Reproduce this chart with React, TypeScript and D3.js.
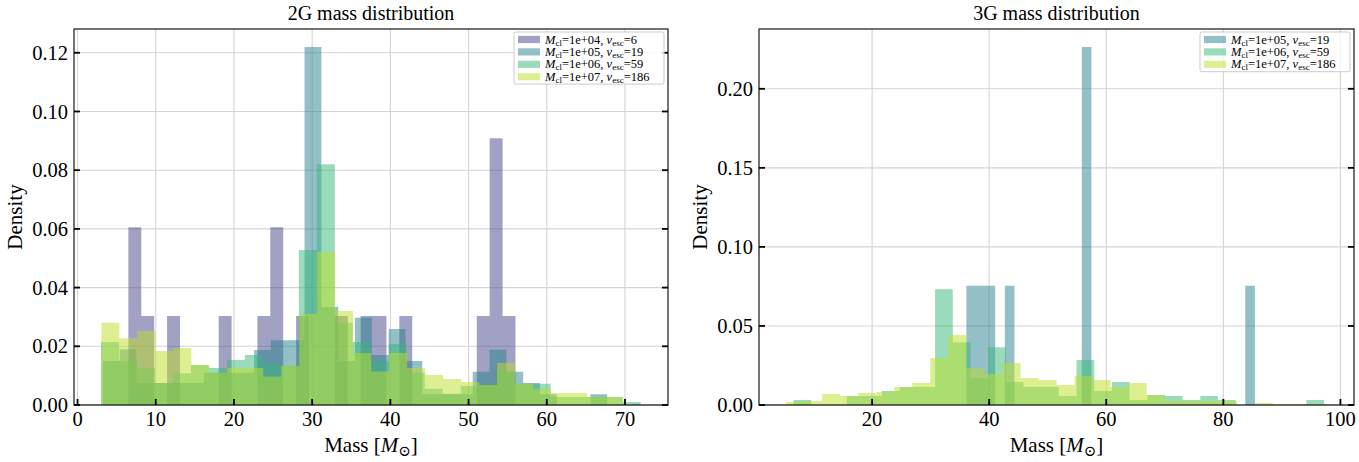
import { useEffect, useRef } from 'react';
import * as d3 from 'd3';

// cluster labels and colours (shared by both panels)
const clusterMass = ['1e+04', '1e+05', '1e+06', '1e+07'];
const vEsc = [6, 19, 59, 186];
const seriesColors = ['#414487', '#277f8e', '#35b779', '#bddf26'];

// 2G panel: first bin edge, bin width, density per bin
const g2Start = [6.5, 3.23, 3.0, 3.05];
const g2Width = [1.65, 2.15, 2.3, 2.3];
const g2Density1e4 = [
  0.0606, 0.0303, 0, 0.0303, 0, 0, 0, 0.0303, 0, 0, 0.0303, 0.0606, 0, 0.0303, 0,
  0, 0.0303, 0, 0.0303, 0.0303, 0, 0.0303, 0, 0, 0, 0, 0, 0.0303, 0.0909, 0.0303,
];
const g2Density1e5 = [
  0.015, 0.019, 0.0075, 0.0075, 0.0075, 0.0075, 0.011, 0.011, 0.011, 0.0187, 0.0221,
  0.0221, 0.122, 0.0334, 0.015, 0.0297, 0.017, 0.0259, 0.015, 0.0037, 0.0037, 0.0037,
  0.0113, 0.0188, 0.0113, 0.0075, 0.0037, 0, 0, 0.0037,
];
const g2Density1e6 = [
  0.0215, 0.015, 0.0126, 0.0075, 0.0108, 0.0136, 0.0126, 0.0153, 0.017, 0.0142, 0.0134,
  0.0528, 0.082, 0.028, 0.0215, 0.0148, 0.0208, 0.011, 0.0055, 0.0038, 0.0065, 0.0068,
  0.0114, 0.0072, 0.0072, 0.0027, 0.0027, 0.0027, 0.0027, 0.001,
];
const g2Density1e7 = [
  0.028, 0.0227, 0.0252, 0.0184, 0.0194, 0.0136, 0.011, 0.0126, 0.0126, 0.0097, 0.0134,
  0.031, 0.0521, 0.032, 0.0177, 0.0114, 0.0177, 0.0126, 0.0102, 0.0089, 0.0078, 0.0068,
  0.0143, 0.0072, 0.0055, 0.0041, 0.0041, 0.0027, 0.0027, 0,
];

// 3G panel (no 1e+04 cluster)
const g3Start = [36.1, 6.6, 5.3];
const g3Width = [1.643, 3.02, 3.08];
const g3Density1e5 = [
  0.0755, 0.0755, 0.0755, 0, 0.0755, 0, 0, 0, 0, 0, 0, 0, 0.2265, 0, 0,
  0, 0, 0, 0, 0, 0, 0, 0, 0, 0, 0, 0, 0, 0, 0.0755,
];
const g3Density1e6 = [
  0.0032, 0, 0, 0.0057, 0.0057, 0.0088, 0.0114, 0.0114, 0.0732, 0.0397, 0.017, 0.0366,
  0.0145, 0.0114, 0.0114, 0.0057, 0.0284, 0.0088, 0.0145, 0.0032, 0.0063, 0.0057, 0.0032,
  0.0057, 0.0032, 0, 0, 0, 0, 0.0032,
];
const g3Density1e7 = [
  0.0019, 0.0025, 0.0069, 0.0057, 0.0076, 0.0082, 0.0114, 0.0139, 0.0297, 0.0442, 0.0233,
  0.0196, 0.0265, 0.017, 0.0158, 0.0126, 0.0183, 0.0158, 0.0114, 0.0139, 0.0063, 0.0025,
  0.0025, 0.0025, 0.0025, 0, 0.0013, 0.0006, 0.0006, 0.0006,
];

const g2XTicks = [0, 10, 20, 30, 40, 50, 60, 70];
const g2YTicks = [0, 0.02, 0.04, 0.06, 0.08, 0.1, 0.12];
const g3XTicks = [20, 40, 60, 80, 100];
const g3YTicks = [0, 0.05, 0.1, 0.15, 0.2];

interface Series {
  start: number;
  width: number;
  density: number[];
  color: string;
  mass: string;
  vesc: number;
}

interface PanelProps {
  left: number;
  right: number;
  title: string;
  series: Series[];
  xTicks: number[];
  yTicks: number[];
}

const FONT = '"Liberation Serif", "DejaVu Serif", serif';
const TOP = 29;
const BOTTOM = 405;

function HistPanel({ left, right, title, series, xTicks, yTicks }: PanelProps) {
  const ref = useRef<SVGGElement>(null);

  useEffect(() => {
    if (!ref.current) return;
    const g = d3.select(ref.current);
    g.selectAll('*').remove();

    const lo = d3.min(series, (s) => s.start) ?? 0;
    const hi = d3.max(series, (s) => s.start + s.width * s.density.length) ?? 1;
    const pad = (hi - lo) * 0.05;
    const x = d3.scaleLinear().domain([lo - pad, hi + pad]).range([left, right]);
    const yMax = (d3.max(series, (s) => d3.max(s.density) ?? 0) ?? 1) * 1.05;
    const y = d3.scaleLinear().domain([0, yMax]).range([BOTTOM, TOP]);

    // grid
    g.selectAll('line.vgrid')
      .data(xTicks)
      .join('line')
      .attr('x1', (d) => x(d))
      .attr('x2', (d) => x(d))
      .attr('y1', TOP)
      .attr('y2', BOTTOM)
      .attr('stroke', '#d4d4d4')
      .attr('stroke-width', 1.1);
    g.selectAll('line.hgrid')
      .data(yTicks)
      .join('line')
      .attr('x1', left)
      .attr('x2', right)
      .attr('y1', (d) => y(d))
      .attr('y2', (d) => y(d))
      .attr('stroke', '#d4d4d4')
      .attr('stroke-width', 1.1);

    // histogram bars, one path per series so adjacent bins don't seam
    series.forEach((s) => {
      const p = d3.path();
      s.density.forEach((d, i) => {
        if (d <= 0) return;
        const x0 = x(s.start + i * s.width);
        const x1 = x(s.start + (i + 1) * s.width);
        p.rect(x0, y(d), x1 - x0, y(0) - y(d));
      });
      g.append('path').attr('d', p.toString()).attr('fill', s.color).attr('fill-opacity', 0.5);
    });

    // spines
    g.append('rect')
      .attr('x', left)
      .attr('y', TOP)
      .attr('width', right - left)
      .attr('height', BOTTOM - TOP)
      .attr('fill', 'none')
      .attr('stroke', '#000')
      .attr('stroke-width', 1.1);

    // ticks (inward, left/right/bottom)
    yTicks.forEach((t) => {
      g.append('line').attr('x1', left).attr('x2', left + 6).attr('y1', y(t)).attr('y2', y(t))
        .attr('stroke', '#000').attr('stroke-width', 1.8);
      g.append('line').attr('x1', right - 6).attr('x2', right).attr('y1', y(t)).attr('y2', y(t))
        .attr('stroke', '#000').attr('stroke-width', 1.8);
      g.append('text')
        .attr('x', left - 6)
        .attr('y', y(t))
        .attr('dy', '0.35em')
        .attr('text-anchor', 'end')
        .attr('font-family', FONT)
        .attr('font-size', 20.5)
        .text(t.toFixed(2));
    });
    xTicks.forEach((t) => {
      g.append('line').attr('x1', x(t)).attr('x2', x(t)).attr('y1', BOTTOM).attr('y2', BOTTOM - 6)
        .attr('stroke', '#000').attr('stroke-width', 1.8);
      g.append('text')
        .attr('x', x(t))
        .attr('y', BOTTOM + 21)
        .attr('text-anchor', 'middle')
        .attr('font-family', FONT)
        .attr('font-size', 20.5)
        .text(String(t));
    });

    const cx = (left + right) / 2;
    g.append('text')
      .attr('x', cx)
      .attr('y', 20)
      .attr('text-anchor', 'middle')
      .attr('font-family', FONT)
      .attr('font-size', 20)
      .text(title);

    const xl = g.append('text')
      .attr('x', cx)
      .attr('y', 452)
      .attr('text-anchor', 'middle')
      .attr('font-family', FONT)
      .attr('font-size', 21);
    xl.append('tspan').text('Mass [');
    xl.append('tspan').attr('font-style', 'italic').text('M');
    xl.append('tspan').attr('font-size', 15).attr('dy', 4).text('⊙');
    xl.append('tspan').attr('dy', -4).text(']');

    g.append('text')
      .attr('transform', `translate(${left - 52},${(TOP + BOTTOM) / 2}) rotate(-90)`)
      .attr('text-anchor', 'middle')
      .attr('font-family', FONT)
      .attr('font-size', 21)
      .text('Density');

    // legend
    const rowH = 12.4;
    const boxW = 150;
    const boxR = right - 4;
    const boxT = 32;
    const lg = g.append('g').attr('transform', `translate(${boxR - boxW},${boxT})`);
    lg.append('rect')
      .attr('width', boxW)
      .attr('height', series.length * rowH + 2.5)
      .attr('rx', 2)
      .attr('fill', '#fff')
      .attr('fill-opacity', 0.8)
      .attr('stroke', '#cccccc')
      .attr('stroke-width', 1);
    series.forEach((s, i) => {
      const cy = 7.5 + i * rowH;
      lg.append('rect')
        .attr('x', 4)
        .attr('y', cy - 3.6)
        .attr('width', 22)
        .attr('height', 7.2)
        .attr('fill', s.color)
        .attr('fill-opacity', 0.5);
      const t = lg.append('text')
        .attr('x', 31)
        .attr('y', cy + 4)
        .attr('font-family', FONT)
        .attr('font-size', 12.5);
      t.append('tspan').attr('font-style', 'italic').text('M');
      t.append('tspan').attr('font-size', 9).attr('dy', 2).text('cl');
      t.append('tspan').attr('dy', -2).text(`=${s.mass}, `);
      t.append('tspan').attr('font-style', 'italic').text('v');
      t.append('tspan').attr('font-size', 9).attr('dy', 2).text('esc');
      t.append('tspan').attr('dy', -2).text(`=${s.vesc}`);
    });
  }, [left, right, title, series, xTicks, yTicks]);

  return <g ref={ref} />;
}

const g2Densities = [g2Density1e4, g2Density1e5, g2Density1e6, g2Density1e7];
const g2Series: Series[] = g2Densities.map((density, i) => ({
  start: g2Start[i],
  width: g2Width[i],
  density,
  color: seriesColors[i],
  mass: clusterMass[i],
  vesc: vEsc[i],
}));

const g3Densities = [g3Density1e5, g3Density1e6, g3Density1e7];
const g3Series: Series[] = g3Densities.map((density, i) => ({
  start: g3Start[i],
  width: g3Width[i],
  density,
  color: seriesColors[i + 1],
  mass: clusterMass[i + 1],
  vesc: vEsc[i + 1],
}));

export default function App() {
  return (
    <svg
      width={1359}
      height={462}
      style={{ position: 'absolute', left: 0, top: 0, background: '#fff' }}
    >
      <HistPanel
        left={74}
        right={668}
        title="2G mass distribution"
        series={g2Series}
        xTicks={g2XTicks}
        yTicks={g2YTicks}
      />
      <HistPanel
        left={759}
        right={1354}
        title="3G mass distribution"
        series={g3Series}
        xTicks={g3XTicks}
        yTicks={g3YTicks}
      />
    </svg>
  );
}
